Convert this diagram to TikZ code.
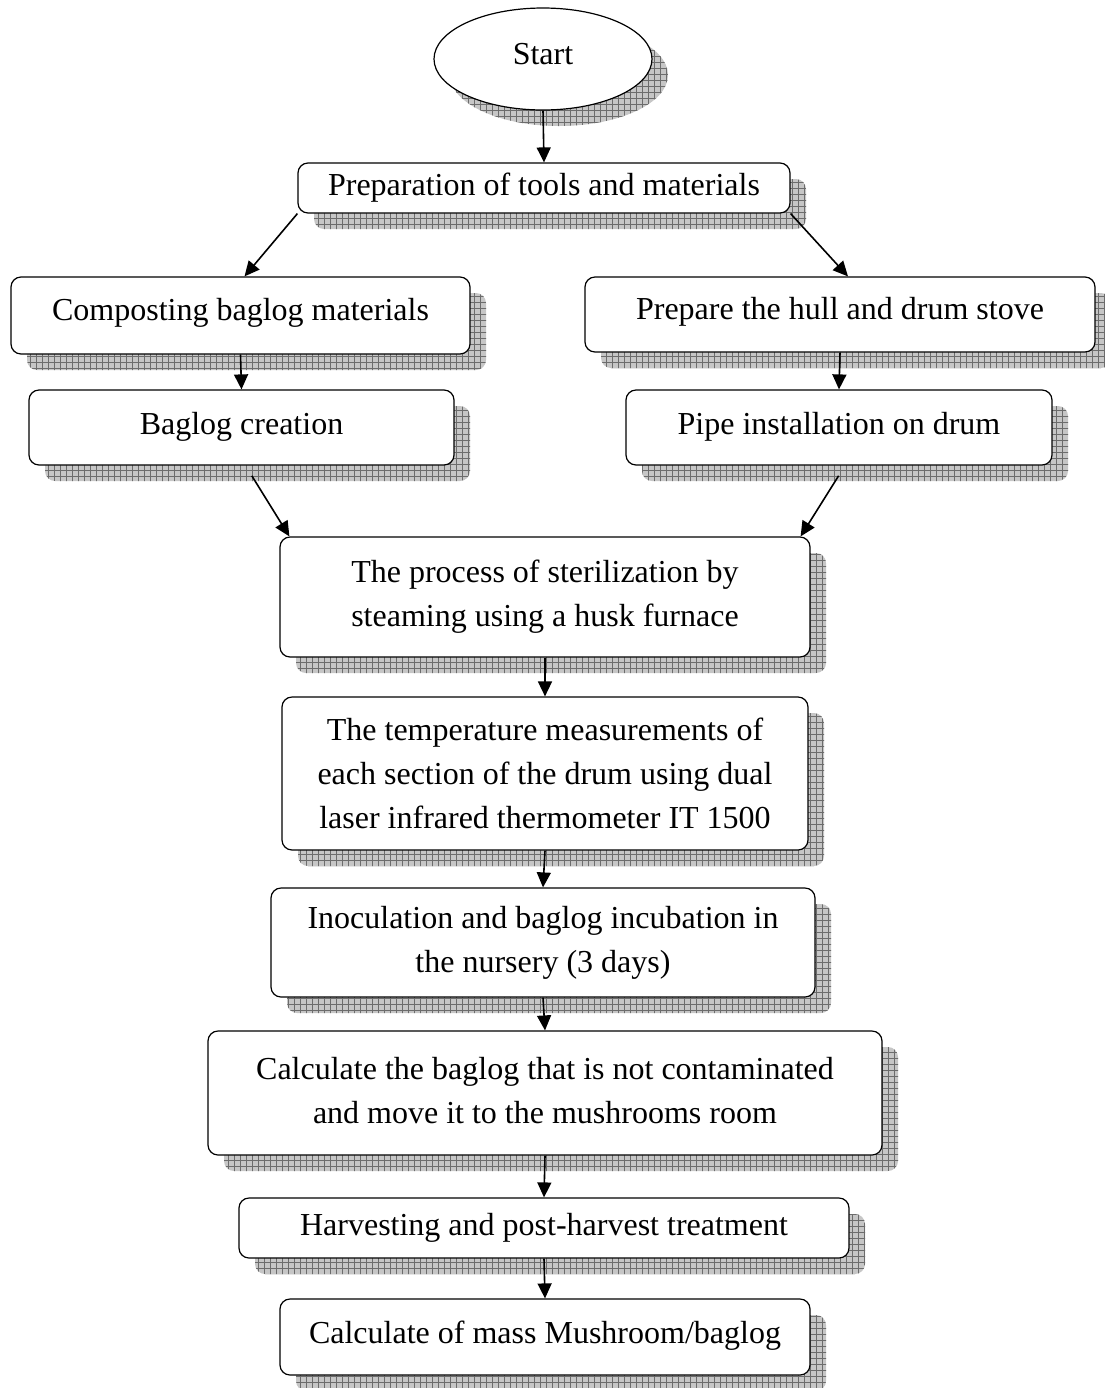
\documentclass[tikz,border=0pt]{standalone}
\usepackage{fontspec}
\setmainfont{Liberation Serif}
\usetikzlibrary{positioning}
\usetikzlibrary{shapes.geometric}
\usetikzlibrary{arrows.meta}
\usetikzlibrary{shadows}
\usetikzlibrary{patterns}

\begin{document}
\begin{tikzpicture}[x=0.5pt, y=-0.5pt]

\useasboundingbox (0,0) rectangle (1104,1388);

\tikzset
  {
    gridShadow/.style=  {general shadow={shadow xshift=8pt, shadow yshift=-8pt, fill=gray!45},
                         general shadow={shadow xshift=8pt, shadow yshift=-8pt, pattern=grid, pattern color=gray!85!black}},
    stepBox/.style=     {draw, line width=0.6pt, fill=white, rounded corners=5pt, align=center,
                         inner sep=0pt, gridShadow, font=\fontsize{16}{22}\selectfont},
    startOval/.style=   {draw, line width=0.6pt, fill=white, ellipse, inner sep=0pt, gridShadow,
                         font=\fontsize{16}{22}\selectfont},
    flowArrow/.style=   {-{Triangle[length=7.5pt, width=7pt]}, line width=0.8pt}
  }

% start
\node[startOval, minimum width=109pt, minimum height=51pt] (start) at (543,59) {\raisebox{5pt}{Start}};

% preparation
\node[stepBox, minimum width=246pt, minimum height=25pt] (prep) at (544,188)
{\raisebox{-2pt}{Preparation of tools and materials}};

% left branch
\node[stepBox, minimum width=229.5pt, minimum height=38.5pt] (comp) at (240.5,315.5)
{\raisebox{6pt}{Composting baglog materials}};
\node[stepBox, minimum width=212.5pt, minimum height=37.5pt] (bagc) at (241.5,427.5)
{\raisebox{4pt}{Baglog creation}};

% right branch
\node[stepBox, minimum width=255pt, minimum height=37.5pt] (hull) at (840,314.5)
{\raisebox{6pt}{Prepare the hull and drum stove}};
\node[stepBox, minimum width=213pt, minimum height=37.5pt] (pipe) at (839,427.5)
{\raisebox{4pt}{Pipe installation on drum}};

% main column
\node[stepBox, minimum width=265pt, minimum height=60pt] (ster) at (545,597)
{The process of sterilization by\\steaming using a husk furnace};
\node[stepBox, minimum width=263pt, minimum height=76.5pt] (temp) at (545,773.5)
{The temperature measurements of\\each section of the drum using dual\\laser infrared thermometer IT 1500};
\node[stepBox, minimum width=272pt, minimum height=54.5pt] (inoc) at (543,942.5)
{Inoculation and baglog incubation in\\the nursery (3 days)};
\node[stepBox, minimum width=337pt, minimum height=62pt] (calc) at (545,1093)
{\raisebox{6pt}{\begin{tabular}{@{}c@{}}Calculate the baglog that is not contaminated\\and move it to the mushrooms room\end{tabular}}};
\node[stepBox, minimum width=305pt, minimum height=30pt] (harv) at (544,1228)
{Harvesting and post-harvest treatment};
\node[stepBox, minimum width=265pt, minimum height=38pt] (mass) at (545,1337)
{\raisebox{5pt}{Calculate of mass Mushroom/baglog}};

% arrows
\draw[flowArrow] (start.south) -- (prep.north);
\draw[flowArrow] (prep.south west) -- ([xshift=2pt]comp.north);
\draw[flowArrow] (prep.south east) -- ([xshift=4pt]hull.north);
\draw[flowArrow] (comp.south) -- (bagc.north);
\draw[flowArrow] (hull.south) -- (pipe.north);
\draw[flowArrow, shorten <=6pt] ([xshift=2pt]bagc.south) -- ([xshift=5pt]ster.north west);
\draw[flowArrow, shorten <=6pt] ([xshift=3pt]pipe.south) -- ([xshift=-5pt]ster.north east);
\draw[flowArrow] (ster.south) -- (temp.north);
\draw[flowArrow] (temp.south) -- (inoc.north);
\draw[flowArrow] (inoc.south) -- (calc.north);
\draw[flowArrow] (calc.south) -- (harv.north);
\draw[flowArrow] (harv.south) -- (mass.north);

\end{tikzpicture}
\end{document}
